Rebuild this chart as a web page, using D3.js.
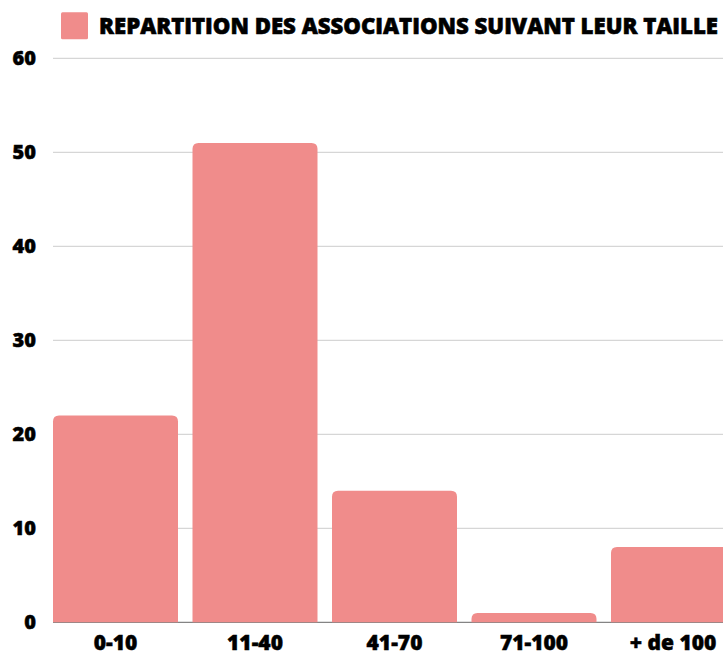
<!DOCTYPE html>
<html>
<head>
<meta charset="utf-8">
<script src="https://cdn.jsdelivr.net/npm/d3@7"></script>
<style>
  html, body { margin: 0; padding: 0; background: #fff; overflow: hidden; }
  svg { display: block; font-family: "Open Sans", sans-serif; }
</style>
</head>
<body>
<svg id="chart" width="723" height="653"></svg>
<script>
const categories = ["0-10", "11-40", "41-70", "71-100", "+ de 100"];
const values = [22, 51, 14, 1, 8];
const yTicks = [0, 10, 20, 30, 40, 50, 60];
const seriesName = "REPARTITION DES ASSOCIATIONS SUIVANT LEUR TAILLE";
const barColor = "#f08c8b";

const svg = d3.select("#chart");
const plotLeft = 53, plotRight = 723;
const yTop = 58.3, yBottom = 622.3;

const x = d3.scaleBand()
  .domain(categories)
  .range([45.75, 45.75 + 5 * 139.5])
  .paddingInner(14.5 / 139.5)
  .paddingOuter(0.5 * 14.5 / 139.5);

const y = d3.scaleLinear().domain([0, 60]).range([yBottom, yTop]);

// gridlines
svg.append("g").selectAll("line")
  .data(yTicks.filter(d => d > 0))
  .join("line")
  .attr("x1", plotLeft).attr("x2", plotRight)
  .attr("y1", d => y(d)).attr("y2", d => y(d))
  .attr("stroke", "#cccccc").attr("stroke-width", 1);

// baseline
svg.append("line")
  .attr("x1", plotLeft).attr("x2", plotRight)
  .attr("y1", y(0)).attr("y2", y(0))
  .attr("stroke", "#666").attr("stroke-width", 1);

// y tick labels
svg.append("g").selectAll("text")
  .data(yTicks)
  .join("text")
  .attr("x", 36).attr("y", d => y(d))
  .attr("dy", "0.35em")
  .attr("text-anchor", "end")
  .attr("font-size", 20).attr("font-weight", 800)
  .attr("fill", "#000").attr("stroke", "#000").attr("stroke-width", 0.5)
  .text(d => d);

// bars with rounded top corners
const r = 6;
function topRounded(x0, y0, w, h) {
  const rr = Math.min(r, h, w / 2);
  return `M${x0},${y0 + h}V${y0 + rr}Q${x0},${y0} ${x0 + rr},${y0}H${x0 + w - rr}Q${x0 + w},${y0} ${x0 + w},${y0 + rr}V${y0 + h}Z`;
}
svg.append("g").selectAll("path")
  .data(categories.map((c, i) => ({ c, v: values[i] })))
  .join("path")
  .attr("d", d => topRounded(x(d.c), y(d.v), x.bandwidth(), y(0) - y(d.v)))
  .attr("fill", barColor);

// x labels
svg.append("g").selectAll("text")
  .data(categories)
  .join("text")
  .attr("x", d => Math.min(x(d) + x.bandwidth() / 2, 673))
  .attr("y", 650)
  .attr("text-anchor", "middle")
  .attr("font-size", 21).attr("font-weight", 800)
  .attr("fill", "#000").attr("stroke", "#000").attr("stroke-width", 0.5)
  .text(d => d);

// legend
svg.append("rect")
  .attr("x", 61).attr("y", 12.3).attr("width", 27).attr("height", 27)
  .attr("rx", 1.5)
  .attr("fill", barColor);
svg.append("text")
  .attr("x", 99).attr("y", 34.3)
  .attr("font-size", 22).attr("font-weight", 800)
  .attr("textLength", 619).attr("lengthAdjust", "spacingAndGlyphs")
  .attr("fill", "#000").attr("stroke", "#000").attr("stroke-width", 0.6)
  .text(seriesName);
</script>
</body>
</html>
